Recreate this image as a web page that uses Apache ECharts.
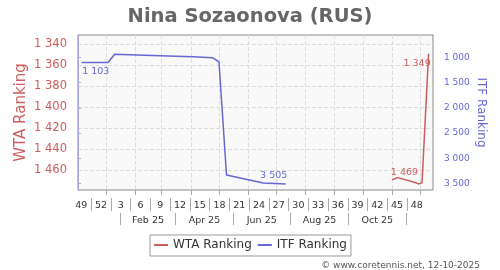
<!DOCTYPE html>
<html><head><meta charset="utf-8">
<script src="https://cdn.jsdelivr.net/npm/echarts@6/dist/echarts.min.js"></script>
<style>html,body{margin:0;padding:0;background:#fff}#c{width:500px;height:270px}</style>
</head><body><div id="c"></div>
<script>
// ---- data ----
const itfDates  = ['2024-12-06','2025-01-03','2025-01-10','2025-02-27','2025-04-03','2025-04-24','2025-05-01','2025-05-09','2025-06-17','2025-07-11'];
const itfValues = [1103, 1103, 941, 968, 988, 1008, 1093, 3328, 3486, 3505];
const wtaDates  = ['2025-11-01','2025-11-07','2025-11-23','2025-11-30','2025-12-03','2025-12-10'];
const wtaValues = [1469, 1467, 1471, 1473, 1472, 1349];
const wtaTicks  = [1340, 1360, 1380, 1400, 1420, 1440, 1460];
const itfTicks  = [1000, 1500, 2000, 2500, 3000, 3500];
const weekLabels = ['49','52','3','6','9','12','15','18','21','24','27','30','33','36','39','42','45','48'];
const weekStarts = ['2024-12-02','2024-12-23','2025-01-13','2025-02-03','2025-02-24','2025-03-17','2025-04-07','2025-04-28','2025-05-19','2025-06-09','2025-06-30','2025-07-21','2025-08-11','2025-09-01','2025-09-22','2025-10-13','2025-11-03','2025-11-24'];
const monthLabels = ['Feb 25','Apr 25','Jun 25','Aug 25','Oct 25'];
const monthSeparators = ['2025-01-16','2025-03-16','2025-05-16','2025-07-16','2025-09-16','2025-11-16'];
const monthStarts = ['2025-01-01','2025-02-01','2025-03-01','2025-04-01','2025-05-01','2025-06-01','2025-07-01','2025-08-01','2025-09-01','2025-10-01','2025-11-01','2025-12-01'];
const rangeStart = '2024-12-02';
const rangeEnd = '2025-12-14';

// ---- helpers ----
function dayNum(s){const p=s.split('-').map(Number);const r=rangeStart.split('-').map(Number);
  return (Date.UTC(p[0],p[1]-1,p[2])-Date.UTC(r[0],r[1]-1,r[2]))/86400000;}
const fmt = v => String(v).replace(/\B(?=(\d{3})+(?!\d))/g,' ');
const XMAX = dayNum(rangeEnd) + 0.7;
const weekPos = weekStarts.map(d => dayNum(d) + 3.5);
const weekSeps = weekPos.slice(0,-1).map((p,i) => (p + weekPos[i+1]) / 2);
const sepDays = monthSeparators.map(dayNum);
const monthPos = sepDays.slice(0,-1).map((p,i) => (p + sepDays[i+1]) / 2);
const gridDays = monthStarts.map(dayNum);
const key = v => v.toFixed(3);
const weekMap = {}; weekPos.forEach((p,i)=>weekMap[key(p)]=weekLabels[i]);
const monthMap = {}; monthPos.forEach((p,i)=>monthMap[key(p)]=monthLabels[i]);

const RED = '#cd5c5c', BLUE = '#6767d4';
const lblStyle = (color, pos, off) => ({show:true, position:pos, offset:off, distance:5, color:color, fontSize:9.5,
  formatter: p => fmt(p.value[1])});

const wtaData = wtaDates.map((d,i)=>({value:[dayNum(d), wtaValues[i]]}));
wtaData[0].label = lblStyle(RED,'top',[12.5,3]);
wtaData[wtaData.length-1].label = lblStyle(RED,'bottom',[-11.5,-0.5]);
const itfData = itfDates.map((d,i)=>({value:[dayNum(d), itfValues[i]]}));
itfData[0].label = lblStyle(BLUE,'bottom',[14,-1]);
itfData[itfData.length-1].label = lblStyle(BLUE,'top',[-12,2]);

const baseX = {type:'value', min:0, max:XMAX, position:'bottom', gridIndex:0,
  axisLine:{show:false}, splitLine:{show:false}};

const chart = echarts.init(document.getElementById('c'), null, {renderer:'canvas'});
chart.setOption({
  animation:false,
  textStyle:{fontFamily:'DejaVu Sans'},
  title:{text:'Nina Sozaonova (RUS)', left:'center', top:2,
    textStyle:{fontSize:19.5, fontWeight:'bold', color:'#666', fontFamily:'DejaVu Sans'}},
  legend:{left:150, top:235, borderColor:'#999', borderWidth:1, borderRadius:0, padding:[4,4,5,4],
    itemGap:6, itemWidth:14, itemHeight:2, icon:'rect',
    textStyle:{fontSize:12, color:'#333'}, data:['WTA Ranking','ITF Ranking']},
  grid:{left:78, right:67, top:35, bottom:80, show:true, backgroundColor:'#f9f9f9', borderColor:'#888', borderWidth:1},
  xAxis:[
    Object.assign({}, baseX, {
      axisTick:{show:true, customValues:gridDays, length:5, lineStyle:{color:'#aaa'}},
      axisLabel:{show:false},
      splitLine:{show:true, lineStyle:{type:'dashed', color:'#dcdcdc'}}}),
    Object.assign({}, baseX, {offset:8,
      axisTick:{show:true, customValues:weekSeps, length:13, lineStyle:{color:'#aaa'}},
      axisLabel:{show:true, customValues:weekPos, margin:3, fontSize:9.5, color:'#333',
        formatter: v => weekMap[key(v)] || ''}}),
    Object.assign({}, baseX, {offset:23,
      axisTick:{show:true, customValues:sepDays, length:12, lineStyle:{color:'#aaa'}},
      axisLabel:{show:true, customValues:monthPos, margin:3, fontSize:9.5, color:'#333',
        formatter: v => monthMap[key(v)] || ''}})
  ],
  yAxis:[
    {type:'value', inverse:true, min:1331.1, max:1478.8, position:'left', offset:5,
     axisLine:{show:true, lineStyle:{color:'#e6b0b0'}},
     axisTick:{show:false, customValues:wtaTicks},
     axisLabel:{customValues:wtaTicks, color:RED, fontSize:11.5, margin:6, formatter:fmt},
     splitLine:{show:true, lineStyle:{type:'dashed', color:'#dcdcdc'}},
     name:'WTA Ranking', nameLocation:'middle', nameGap:44, nameRotate:90, nameMoveOverlap:false,
     nameTextStyle:{color:RED, fontSize:15}},
    {type:'value', inverse:true, min:559, max:3625, position:'right', offset:6,
     axisLine:{show:true, lineStyle:{color:'#a9a9e2'}},
     axisTick:{show:true, length:3, customValues:itfTicks, lineStyle:{color:'#a9a9e2'}},
     axisLabel:{customValues:itfTicks, color:BLUE, fontSize:9, margin:5, formatter:fmt},
     splitLine:{show:false},
     name:'ITF Ranking', nameLocation:'middle', nameGap:36, nameRotate:-90, nameMoveOverlap:false,
     nameTextStyle:{color:BLUE, fontSize:12}}
  ],
  graphic:[{type:'text', right:20, top:261, style:{text:'© www.coretennis.net, 12-10-2025', fontSize:9, fill:'#555', fontFamily:'DejaVu Sans'}}],
  series:[
    {name:'WTA Ranking', type:'line', xAxisIndex:0, yAxisIndex:0, data:wtaData, color:RED,
     symbol:'circle', symbolSize:0.01, showSymbol:true, showAllSymbol:true,
     lineStyle:{width:1.5, color:RED}},
    {name:'ITF Ranking', type:'line', xAxisIndex:0, yAxisIndex:1, data:itfData, color:BLUE,
     symbol:'circle', symbolSize:0.01, showSymbol:true, showAllSymbol:true,
     lineStyle:{width:1.5, color:BLUE}}
  ]
});
</script></body></html>
